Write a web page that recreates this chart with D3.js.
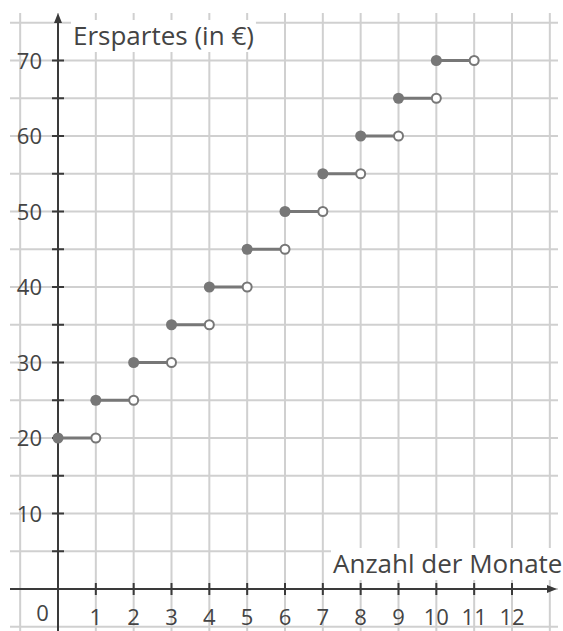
<!DOCTYPE html>
<html>
<head>
<meta charset="utf-8">
<script src="https://cdn.jsdelivr.net/npm/d3@7"></script>
<style>
  body { margin: 0; background: #fff; }
  text { font-family: "Open Sans", "Noto Sans", sans-serif; fill: #444; }
</style>
</head>
<body>
<svg id="chart" width="563" height="631"></svg>
<script>
// step data: saved money, constant on [month, month+1)
var months = [0, 1, 2, 3, 4, 5, 6, 7, 8, 9, 10];
var savings = [20, 25, 30, 35, 40, 45, 50, 55, 60, 65, 70];
var xTicks = [1, 2, 3, 4, 5, 6, 7, 8, 9, 10, 11, 12];
var yTicks = [10, 20, 30, 40, 50, 60, 70];
var yLabel = "Erspartes (in €)";
var xLabel = "Anzahl der Monate";

var svg = d3.select("#chart");

var x = d3.scaleLinear().domain([0, 12]).range([58, 512]);
var y = d3.scaleLinear().domain([0, 70]).range([589, 60.5]);

// grid
var grid = svg.append("g").attr("stroke", "#d0d0d0").attr("stroke-width", 2);
grid.selectAll("line.v")
    .data(d3.range(-1, 14))
    .enter().append("line")
    .attr("class", "v")
    .attr("x1", function (d) { return x(d); })
    .attr("x2", function (d) { return x(d); })
    .attr("y1", 13).attr("y2", 631);
grid.selectAll("line.h")
    .data(d3.range(-5, 80, 5))
    .enter().append("line")
    .attr("class", "h")
    .attr("y1", function (d) { return y(d); })
    .attr("y2", function (d) { return y(d); })
    .attr("x1", 10).attr("x2", 558);

// axes
var axisCol = "#3a3a3a";
svg.append("line")
    .attr("x1", 10).attr("x2", 550)
    .attr("y1", y(0)).attr("y2", y(0))
    .attr("stroke", axisCol).attr("stroke-width", 2);
svg.append("path")
    .attr("d", "M557," + y(0) + " l-10,-4 l0,8 z")
    .attr("fill", axisCol);
svg.append("line")
    .attr("x1", x(0)).attr("x2", x(0))
    .attr("y1", 631).attr("y2", 20)
    .attr("stroke", axisCol).attr("stroke-width", 2);
svg.append("path")
    .attr("d", "M" + x(0) + ",13 l-4,10 l8,0 z")
    .attr("fill", axisCol);

// tick marks
svg.selectAll("line.xt")
    .data(xTicks)
    .enter().append("line")
    .attr("class", "xt")
    .attr("x1", function (d) { return x(d); })
    .attr("x2", function (d) { return x(d); })
    .attr("y1", y(0) - 6).attr("y2", y(0) + 6)
    .attr("stroke", axisCol).attr("stroke-width", 2);
svg.selectAll("line.yt")
    .data(d3.range(5, 75, 5))
    .enter().append("line")
    .attr("class", "yt")
    .attr("y1", function (d) { return y(d); })
    .attr("y2", function (d) { return y(d); })
    .attr("x1", x(0) - 6).attr("x2", x(0) + 6)
    .attr("stroke", axisCol).attr("stroke-width", 2);

// tick labels
svg.selectAll("text.xl")
    .data(xTicks)
    .enter().append("text")
    .attr("class", "xl")
    .attr("x", function (d) { return x(d); })
    .attr("y", y(0) + 36)
    .attr("text-anchor", "middle")
    .style("font-size", "22px")
    .text(function (d) { return d; });
svg.selectAll("text.yl")
    .data(yTicks)
    .enter().append("text")
    .attr("class", "yl")
    .attr("x", x(0) - 16)
    .attr("y", function (d) { return y(d) + 8; })
    .attr("text-anchor", "end")
    .style("font-size", "22px")
    .text(function (d) { return d; });
svg.append("text")
    .attr("x", 42.5).attr("y", y(0) + 32)
    .attr("text-anchor", "middle")
    .style("font-size", "22px")
    .text("0");

// axis titles with white background
function titled(tx, ty, str) {
    var t = svg.append("text")
        .attr("x", tx).attr("y", ty)
        .style("font-size", "26px")
        .text(str);
    var b = t.node().getBBox();
    svg.insert("rect", function () { return t.node(); })
        .attr("x", b.x - 2).attr("y", b.y + 3)
        .attr("width", b.width + 4).attr("height", b.height - 4)
        .attr("fill", "#fff");
}
titled(73, 45, yLabel);
titled(333, 573, xLabel);

// steps
var pts = months.map(function (m, i) { return { m: m, v: savings[i] }; });
var col = "#777";
svg.selectAll("line.step")
    .data(pts)
    .enter().append("line")
    .attr("class", "step")
    .attr("x1", function (d) { return x(d.m); })
    .attr("x2", function (d) { return x(d.m + 1); })
    .attr("y1", function (d) { return y(d.v); })
    .attr("y2", function (d) { return y(d.v); })
    .attr("stroke", col).attr("stroke-width", 3);
svg.selectAll("circle.open")
    .data(pts)
    .enter().append("circle")
    .attr("class", "open")
    .attr("cx", function (d) { return x(d.m + 1); })
    .attr("cy", function (d) { return y(d.v); })
    .attr("r", 4.5)
    .attr("fill", "#fff").attr("stroke", col).attr("stroke-width", 2);
svg.selectAll("circle.closed")
    .data(pts)
    .enter().append("circle")
    .attr("class", "closed")
    .attr("cx", function (d) { return x(d.m); })
    .attr("cy", function (d) { return y(d.v); })
    .attr("r", 5.5)
    .attr("fill", col);
</script>
</body>
</html>
